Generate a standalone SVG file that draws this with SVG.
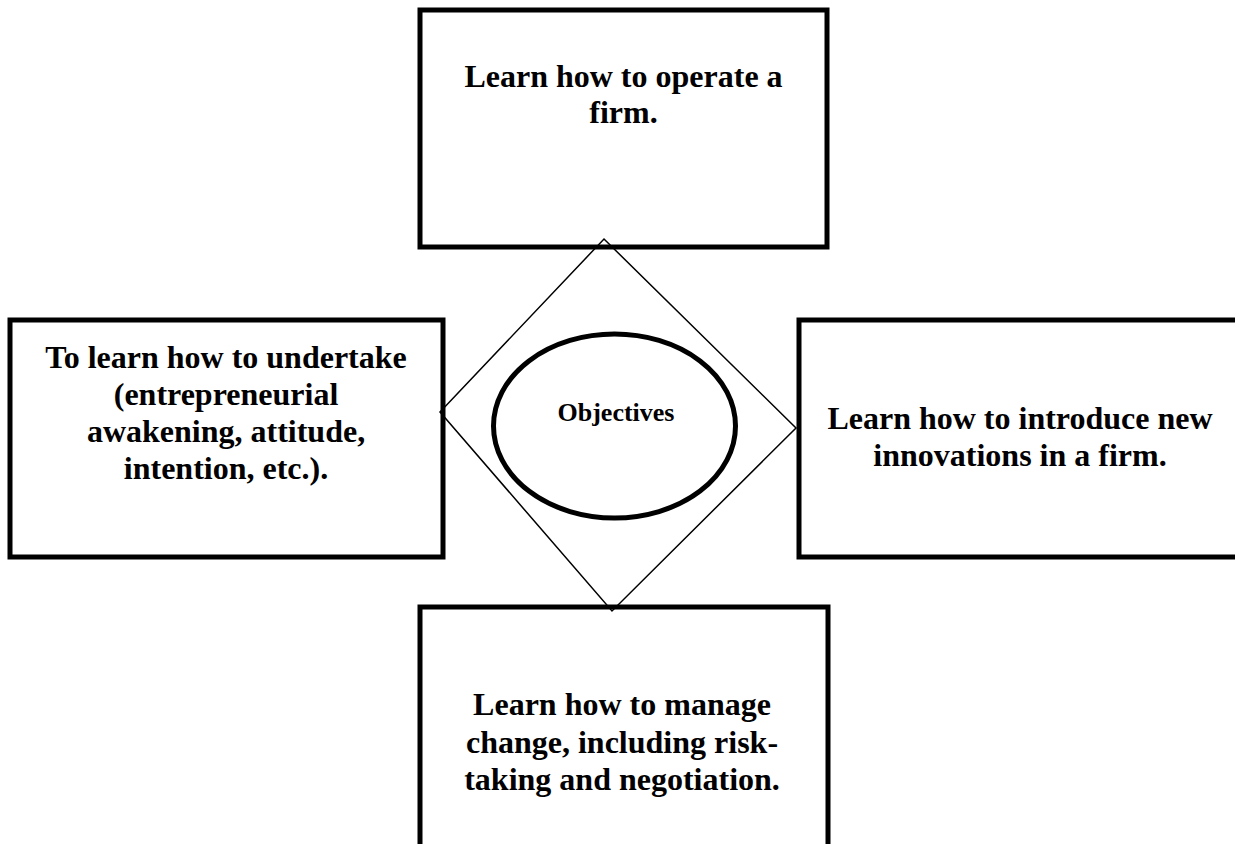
<svg xmlns="http://www.w3.org/2000/svg" width="1235" height="844" viewBox="0 0 1235 844">
  <style>
    .box { fill: #ffffff; stroke: #000000; stroke-width: 5; }
    .frame { fill: none; stroke: #000000; stroke-width: 1.5; stroke-linejoin: miter; }
    .hub { fill: #ffffff; stroke: #000000; stroke-width: 5; }
    .label { font-family: "Liberation Serif", "Times New Roman", serif; font-weight: bold; font-size: 32px; fill: #000000; text-anchor: middle; }
    .hub-label { font-family: "Liberation Serif", "Times New Roman", serif; font-weight: bold; font-size: 26px; fill: #000000; text-anchor: middle; }
  </style>
  <rect width="1235" height="844" fill="#ffffff"/>

  <!-- outer objective boxes -->
  <g id="node-operate">
    <rect class="box" x="420" y="10" width="407" height="237"/>
    <text class="label" x="623.5" y="87">Learn how to operate a</text>
    <text class="label" x="623.5" y="123">firm.</text>
  </g>

  <g id="node-undertake">
    <rect class="box" x="10" y="320" width="433" height="237"/>
    <text class="label" x="226" y="368">To learn how to undertake</text>
    <text class="label" x="226" y="405">(entrepreneurial</text>
    <text class="label" x="226" y="442">awakening, attitude,</text>
    <text class="label" x="226" y="479">intention, etc.).</text>
  </g>

  <g id="node-innovate">
    <rect class="box" x="799" y="320" width="460" height="237"/>
    <text class="label" x="1020" y="429">Learn how to introduce new</text>
    <text class="label" x="1020" y="466">innovations in a firm.</text>
  </g>

  <g id="node-change">
    <rect class="box" x="420" y="607" width="408" height="260"/>
    <text class="label" x="622" y="715">Learn how to manage</text>
    <text class="label" x="622" y="753">change, including risk-</text>
    <text class="label" x="622" y="790">taking and negotiation.</text>
  </g>

  <!-- diamond frame linking the four boxes -->
  <g id="connectors">
    <polygon class="frame" points="604,239 796,428 612,611 440,412"/>
  </g>

  <!-- central hub -->
  <g id="node-objectives">
    <ellipse class="hub" cx="614.5" cy="426" rx="121" ry="92"/>
    <text class="hub-label" x="616" y="421">Objectives</text>
  </g>
</svg>
